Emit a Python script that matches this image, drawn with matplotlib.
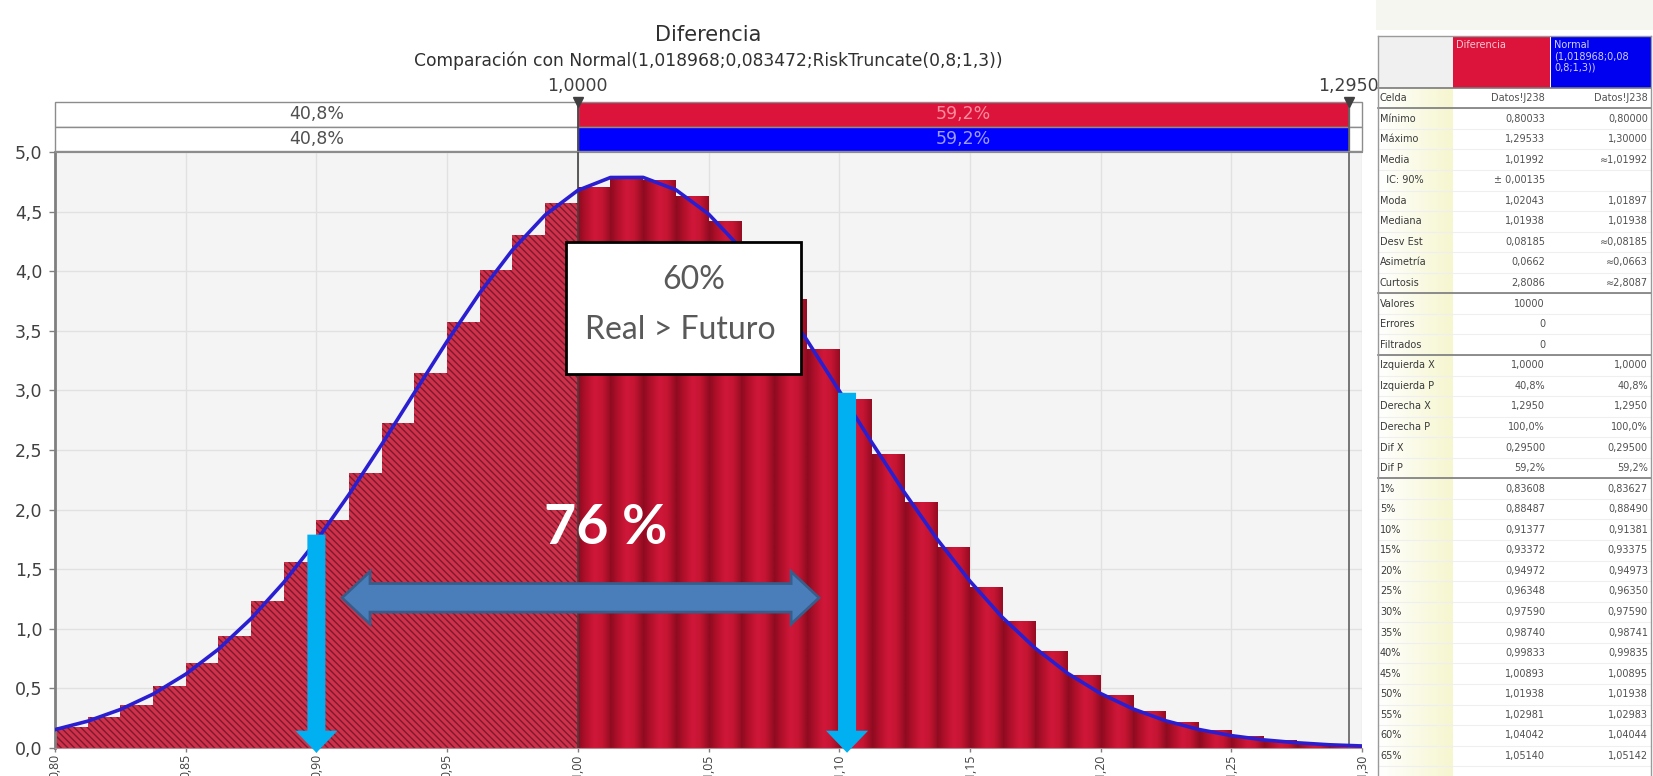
import numpy as np
import matplotlib
matplotlib.use("Agg")
import matplotlib.pyplot as plt
from matplotlib.patches import Rectangle, Polygon, FancyArrow
from matplotlib.colors import LinearSegmentedColormap

# Histograma (densidad), 40 clases de 0,0125 entre 0,80 y 1,30
bin_edges = np.linspace(0.80, 1.30, 41)
densidad = [0.18, 0.26, 0.36, 0.52, 0.71, 0.94, 1.23, 1.56, 1.91, 2.31, 2.73, 3.15,
            3.57, 4.01, 4.30, 4.57,
            4.70, 4.79, 4.76, 4.63, 4.42, 4.12, 3.76, 3.34, 2.92, 2.46, 2.06, 1.68,
            1.35, 1.06, 0.81, 0.61, 0.44, 0.31, 0.21, 0.15, 0.094, 0.06, 0.035, 0.02]

# Curva Normal ajustada (leída cada 0,0125)
curva_x = np.linspace(0.80, 1.30, 41)
curva_normal = [0.154, 0.225, 0.323, 0.452, 0.619, 0.828, 1.085, 1.389, 1.738, 2.128,
                2.547, 2.981, 3.412, 3.818, 4.178, 4.471, 4.678, 4.786, 4.787, 4.683,
                4.480, 4.190, 3.832, 3.427, 2.997, 2.562, 2.142, 1.751, 1.400, 1.094,
                0.837, 0.625, 0.457, 0.327, 0.228, 0.156, 0.104, 0.068, 0.044, 0.027, 0.017]

x_ticks = [0.80, 0.85, 0.90, 0.95, 1.00, 1.05, 1.10, 1.15, 1.20, 1.25, 1.30]
y_ticks = [0.0, 0.5, 1.0, 1.5, 2.0, 2.5, 3.0, 3.5, 4.0, 4.5, 5.0]

limite_izq = 1.0000
limite_der = 1.2950
prob_izq = "40,8%"
prob_centro = "59,2%"

titulo = "Diferencia"
subtitulo = "Comparación con Normal(1,018968;0,083472;RiskTruncate(0,8;1,3))"

# anotaciones añadidas encima del gráfico
flecha_izq_x, flecha_izq_top = 0.900, 1.79
flecha_der_x, flecha_der_top = 1.103, 2.98
rango_x = (0.9098, 1.0923)
rango_y = 1.26

# tabla de estadísticas
tabla_etiquetas = ["Celda", "Mínimo", "Máximo", "Media", "  IC: 90%", "Moda", "Mediana",
                   "Desv Est", "Asimetría", "Curtosis", "Valores", "Errores", "Filtrados",
                   "Izquierda X", "Izquierda P", "Derecha X", "Derecha P", "Dif X", "Dif P",
                   "1%", "5%", "10%", "15%", "20%", "25%", "30%", "35%", "40%", "45%",
                   "50%", "55%", "60%", "65%"]
tabla_dif = ["Datos!J238", "0,80033", "1,29533", "1,01992", "± 0,00135", "1,02043", "1,01938",
             "0,08185", "0,0662", "2,8086", "10000", "0", "0",
             "1,0000", "40,8%", "1,2950", "100,0%", "0,29500", "59,2%",
             "0,83608", "0,88487", "0,91377", "0,93372", "0,94972", "0,96348", "0,97590",
             "0,98740", "0,99833", "1,00893", "1,01938", "1,02981", "1,04042", "1,05140"]
tabla_normal = ["Datos!J238", "0,80000", "1,30000", "≈1,01992", "", "1,01897", "1,01938",
                "≈0,08185", "≈0,0663", "≈2,8087", "", "", "",
                "1,0000", "40,8%", "1,2950", "100,0%", "0,29500", "59,2%",
                "0,83627", "0,88490", "0,91381", "0,93375", "0,94973", "0,96350", "0,97590",
                "0,98741", "0,99835", "1,00895", "1,01938", "1,02983", "1,04044", "1,05142"]


def coma(v, d):
    return f"{v:.{d}f}".replace(".", ",")


W, H = 1653, 776
plt.rcParams["font.family"] = ["DejaVu Sans"]
plt.rcParams["hatch.linewidth"] = 1.0
fig = plt.figure(figsize=(W / 100, H / 100), dpi=100)

# ---- gráfico principal
ax = fig.add_axes([55 / W, (H - 748) / H, 1307 / W, 596 / H])
ax.set_facecolor("#f4f4f4")
ax.set_axisbelow(True)
ax.grid(color="#e1e1e1", lw=1)

anchos = np.diff(bin_edges)
izq = bin_edges[:-1] < limite_izq - 1e-9
ax.bar(bin_edges[:-1][izq], np.array(densidad)[izq], width=anchos[izq], align="edge",
       color="#d0314a", edgecolor="#7a1a2e", linewidth=0, hatch="\\\\\\\\\\", zorder=2)

bar_cmap = LinearSegmentedColormap.from_list(
    "barra", ["#8e0b20", "#b4102c", "#d0173a", "#c51533", "#960c22"])
grad = np.linspace(0, 1, 32).reshape(1, -1)
for x0, w, h in zip(bin_edges[:-1][~izq], anchos[~izq], np.array(densidad)[~izq]):
    ax.imshow(grad, extent=(x0, x0 + w, 0, h), aspect="auto", cmap=bar_cmap,
              interpolation="bilinear", zorder=2)

ax.plot(curva_x, curva_normal, color="#2a1fd0", lw=2.6, zorder=4)

ax.axvline(limite_izq, color="#404040", lw=1.2, zorder=3)
ax.axvline(limite_der, color="#606060", lw=1.2, zorder=3)

ax.set_xlim(0.80, 1.30)
ax.set_ylim(0, 5.0)
ax.set_xticks(x_ticks)
ax.set_xticklabels([coma(v, 2) for v in x_ticks], rotation=90,
                   family=["Open Sans", "DejaVu Sans"])
ax.set_yticks(y_ticks)
ax.set_yticklabels([coma(v, 1) for v in y_ticks])
ax.tick_params(axis="y", labelsize=12.5, labelcolor="#404040", color="#808080",
               length=4, width=1, pad=5)
ax.tick_params(axis="x", labelsize=8.8, labelcolor="#404040", color="#808080",
               length=3, width=1, pad=1)
ax.spines["left"].set_color("#7f7f7f")
ax.spines["left"].set_linewidth(2)
ax.spines["bottom"].set_color("#b09098")
ax.spines["top"].set_color("#8c8c8c")
ax.spines["right"].set_visible(False)

# flechas cian
for fx, ftop in [(flecha_izq_x, flecha_izq_top), (flecha_der_x, flecha_der_top)]:
    ax.add_patch(FancyArrow(fx, ftop, 0, -0.04 - ftop, width=0.0069, head_width=0.0161,
                            head_length=0.185, length_includes_head=True,
                            color="#00b0f0", lw=0, zorder=6, clip_on=False))

# flecha doble
hl, sh, hh = 0.0107, 0.12, 0.22
x1, x2 = rango_x
pts = [(x1, rango_y), (x1 + hl, rango_y + hh), (x1 + hl, rango_y + sh),
       (x2 - hl, rango_y + sh), (x2 - hl, rango_y + hh), (x2, rango_y),
       (x2 - hl, rango_y - hh), (x2 - hl, rango_y - sh), (x1 + hl, rango_y - sh),
       (x1 + hl, rango_y - hh)]
ax.add_patch(Polygon(pts, closed=True, fc="#4a7ebb", ec="#385d8a", lw=2, zorder=6))
ax.text(1.0108, 1.846, "76 %", fontsize=40, fontweight="bold", color="white",
        family=["Lato", "DejaVu Sans"], ha="center", va="center", zorder=7)

# recuadro de texto
ax.add_patch(Rectangle((0.9955, 3.138), 0.0899, 1.107, fc="white", ec="black",
                       lw=2, zorder=8))
ax.text(1.0444, 3.93, "60%", fontsize=23, color="#595959", family=["Lato", "DejaVu Sans"],
        ha="center", va="center", zorder=9)
ax.text(1.0391, 3.51, "Real > Futuro", fontsize=23, color="#595959",
        family=["Lato", "DejaVu Sans"], ha="center", va="center", zorder=9)

# ---- barras de probabilidad superiores
bx = fig.add_axes([55 / W, (H - 151) / H, 1307 / W, 49 / H])
bx.set_xlim(0.80, 1.30)
bx.set_ylim(0, 2)
bx.axis("off")
for fila, color, tcolor in [(1, "#dc143c", "#ff8c9c"), (0, "#0000ff", "#9c9cff")]:
    bx.add_patch(Rectangle((0.80, fila), limite_izq - 0.80, 1, fc="white", ec="#8c8c8c",
                           lw=1, clip_on=False))
    bx.add_patch(Rectangle((limite_izq, fila), limite_der - limite_izq, 1, fc=color,
                           ec="#8c8c8c", lw=1, clip_on=False))
    bx.add_patch(Rectangle((limite_der, fila), 1.30 - limite_der, 1, fc="white",
                           ec="#8c8c8c", lw=1, clip_on=False))
    bx.text((0.80 + limite_izq) / 2, fila + 0.5, prob_izq, ha="center", va="center",
            fontsize=12.5, color="#505050")
    bx.text((limite_izq + limite_der) / 2, fila + 0.5, prob_centro, ha="center",
            va="center", fontsize=12.5, color=tcolor)
bx.axvline(limite_izq, color="#404040", lw=1.2)
bx.axvline(limite_der, color="#606060", lw=1.2)
bx.plot([limite_izq, limite_der], [2, 2], ls="none", marker="v", ms=7, color="#404040",
        clip_on=False)
for lx in [limite_izq, limite_der]:
    bx.annotate(coma(lx, 4), xy=(lx, 2), xytext=(0, 5), textcoords="offset points",
                ha="center", va="bottom", fontsize=12.5, color="#404040")

fig.text(708 / W, 1 - 35 / H, titulo, ha="center", va="center", fontsize=15,
         color="#303030")
fig.text(708 / W, 1 - 61 / H, subtitulo, ha="center", va="center", fontsize=12.3,
         color="#303030")

# ---- tabla de estadísticas
tb = fig.add_axes([1376 / W, 0, 277 / W, 1])
tb.axis("off")
tb.add_patch(Rectangle((0, 0), 277, 30, fc="#f6f6f1", ec="none"))
ycmap = LinearSegmentedColormap.from_list("amarillo", ["#ffffff", "#f6f6d0"])
tb.imshow(np.linspace(0, 1, 40).reshape(1, -1), extent=(2, 77, 776, 88), aspect="auto",
          cmap=ycmap, zorder=0)
tb.add_patch(Rectangle((2, 36), 75, 52, fc="#f0f0f0", ec="none"))
tb.add_patch(Rectangle((77, 36), 97, 52, fc="#dc143c", ec="none"))
tb.add_patch(Rectangle((175, 36), 100, 52, fc="#0000f0", ec="none"))
tb.text(80, 40, "Diferencia", fontsize=7, color="#ffc8d2", va="top")
tb.text(178, 40, "Normal\n(1,018968;0,08\n0,8;1,3))", fontsize=7, color="#d0d0ff",
        va="top", linespacing=1.15)

paso = 20.56
y0 = 98
for i, (lab, v1, v2) in enumerate(zip(tabla_etiquetas, tabla_dif, tabla_normal)):
    y = y0 + i * paso
    tb.text(4, y, lab, fontsize=7, color="#3a3a3a", va="center")
    tb.text(169, y, v1, fontsize=7, color="#505050", va="center", ha="right")
    tb.text(272, y, v2, fontsize=7, color="#505050", va="center", ha="right")
    tb.plot([2, 275], [y + paso / 2, y + paso / 2], color="#efefef", lw=0.8, zorder=1)
for i in [0, 9, 12, 18]:
    yl = y0 + (i + 0.5) * paso
    tb.plot([2, 275], [yl, yl], color="#7a7a7a", lw=1.2, zorder=2)
tb.plot([2, 275], [88, 88], color="#7a7a7a", lw=1.2)
tb.plot([2, 2], [36, 776], color="#9a9a9a", lw=1)
tb.plot([275, 275], [36, 776], color="#9a9a9a", lw=1)
tb.plot([2, 275], [36, 36], color="#9a9a9a", lw=1)
tb.set_xlim(0, 277)
tb.set_ylim(776, 0)

fig.savefig("out.png", dpi=100)
